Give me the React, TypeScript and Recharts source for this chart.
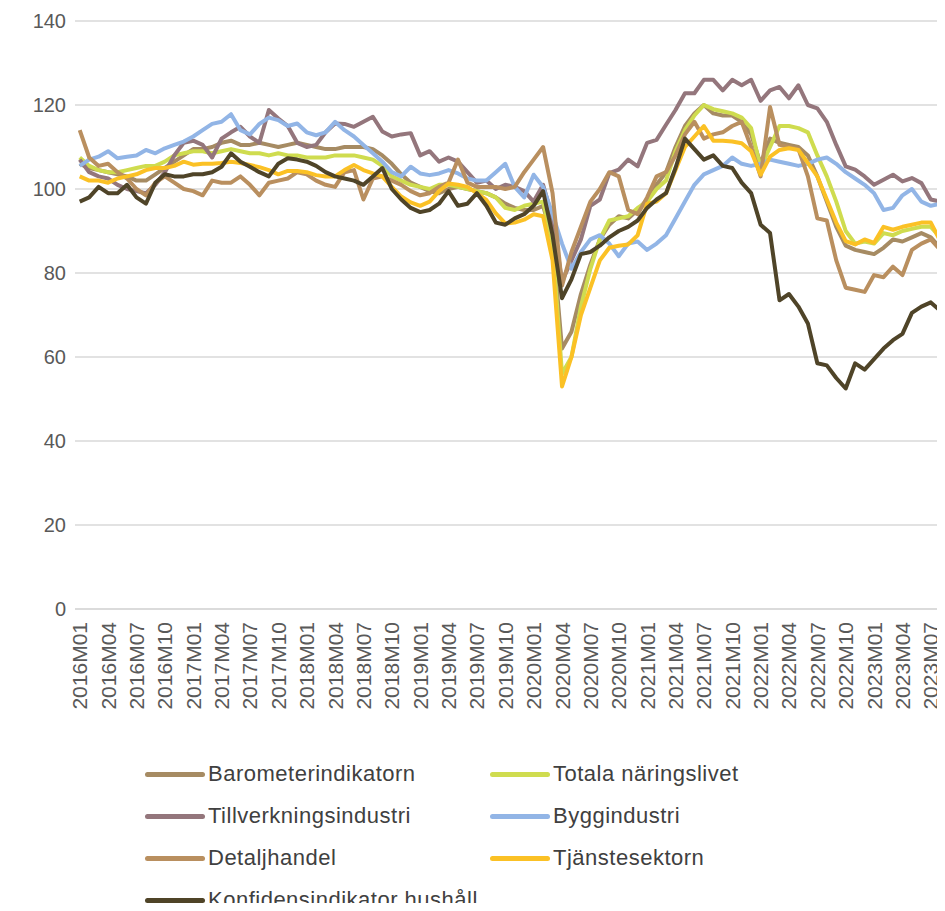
import React from 'react';
import { LineChart, Line, XAxis, YAxis, CartesianGrid, Legend } from 'recharts';

const years = ['2016', '2017', '2018', '2019', '2020', '2021', '2022', '2023'];
const monthCodes = ['M01', 'M02', 'M03', 'M04', 'M05', 'M06', 'M07', 'M08', 'M09', 'M10', 'M11', 'M12'];
const yTicks = [0, 20, 40, 60, 80, 100, 120, 140];

const barometer = [
  106, 105, 104.5, 104, 103.5, 103, 102, 102, 103.5, 105, 106.5, 108,
  109.5, 109.5, 110, 111, 111.5, 110.5, 110.5, 111, 110.5, 110, 110.5, 111,
  110.5, 110, 109.5, 109.5, 110, 110, 110, 109.5, 108, 106, 103.5, 101.5,
  100.5, 99.5, 99, 100, 100.5, 100, 99.5, 99, 98, 96.5, 95.5, 95,
  95, 96, 88, 62, 66, 75, 82, 88, 91.5, 93.5, 93, 95,
  97.5, 101, 104, 110, 115, 118, 120, 118, 117.5, 117.5, 116, 113,
  106, 112, 111, 110.5, 110, 108, 103, 97, 91, 86.5, 85.5, 85,
  84.5, 86, 88, 87.5, 88.5, 89.5, 88.5, 86,
];

const totala = [
  107.5, 105.5, 104.5, 104, 104, 104.5, 105, 105.5, 105.5, 106.5, 108, 108.5,
  109, 109, 108.5, 109, 109.5, 109, 108.5, 108.5, 108, 108.5, 108, 108,
  107.5, 107.5, 107.5, 108, 108, 108, 107.5, 107, 105.5, 103, 102, 101,
  100.5, 100, 101, 101, 100.5, 100, 99.5, 99, 98, 95.5, 95, 96,
  96.5, 97, 87, 56, 60, 72, 81, 88, 92.5, 93, 93.5, 95.5,
  97, 100, 102, 109, 114, 117.5, 120, 119, 118.5, 118, 117, 114.5,
  105, 110, 115, 115, 114.5, 113.5, 108, 103, 97, 90, 87, 87.5,
  87, 89.5, 89, 90, 90.5, 91, 91, 88.5,
];

const tillverkning = [
  107, 104, 103, 102.5, 101, 100, 99.5, 99, 101, 104, 108, 111,
  111.5, 110.5, 107.5, 112, 113.5, 114.8, 112.5, 111, 118.8, 116.8, 115, 111,
  110, 110.5, 113.5, 115.6, 115.5, 114.8, 116, 117.2, 113.7, 112.5, 113, 113.3,
  108, 109, 106.5, 107.5, 106.5, 104, 101.5, 102, 100, 101, 100.5, 99.5,
  97, 101, 93, 78, 83, 88, 96, 97.5, 103.8, 104.6, 107, 105.4,
  111, 111.7, 115.3, 118.8, 122.8, 122.8, 126, 126, 123.5, 126, 124.7, 126,
  121, 123.5, 124.3, 121.6, 124.7, 120, 119.2, 116, 110.5, 105.4, 104.6, 103,
  101, 102.2, 103.4, 101.8, 102.6, 101.4, 97.5, 97,
];

const bygg = [
  105.5, 107, 107.7, 109, 107.3, 107.7, 108, 109.3, 108.5, 109.7, 110.5, 111.3,
  112.5, 114, 115.5, 116, 117.8, 114, 113, 115.5, 117, 116.4, 115, 115.6,
  113.5, 112.8, 113.5, 116, 114, 112.5, 110.5, 108.5, 106.5, 104, 103, 105.3,
  103.7, 103.3, 103.7, 104.5, 103.7, 102.5, 102, 102, 104, 106, 100.5, 98,
  103.4, 100.5, 94, 87, 81, 85, 88, 89, 87, 84, 87, 87.5,
  85.5, 87, 89, 93, 97, 101, 103.5, 104.5, 105.5, 107.5, 106, 105.5,
  106, 107, 106.5, 106, 105.5, 106, 107, 107.5, 106, 104, 102.5, 101,
  99, 95, 95.5, 98.5, 100, 97, 96, 96.5,
];

const detalj = [
  114, 107.5, 105.5, 106, 104, 102.5, 100, 98.5, 101.5, 103, 101.5, 100,
  99.5, 98.5, 102, 101.5, 101.5, 103, 101, 98.5, 101.5, 102, 102.5, 104,
  103.5, 102, 101, 100.5, 104, 104.5, 97.5, 102.5, 103, 102, 101, 99.5,
  98.5, 99, 100.5, 101.5, 107, 101.5, 100.5, 100.5, 100.5, 100, 100.5, 104,
  107, 110, 99, 77, 85, 91, 97, 100, 104, 103, 95, 94,
  98, 103, 104, 108, 113, 116, 112, 113, 113.5, 115, 116, 110,
  103, 119.5, 110.5, 110, 109.5, 103, 93, 92.5, 83, 76.5, 76, 75.5,
  79.5, 79, 81.5, 79.5, 85.5, 87, 88, 85.5,
];

const tjanste = [
  103, 102, 102, 101.5, 102.5, 103, 103.5, 104.5, 105, 105, 105.5, 106.5,
  105.8, 106, 106, 106.2, 106.5, 106.2, 105.7, 105.2, 104.5, 103.5, 104.3, 104.3,
  104, 103.3, 103, 103, 104.5, 105.7, 104.5, 103.7, 103, 100.5, 98.2, 96.8,
  96, 97, 99.5, 101.3, 101, 100.5, 99, 97.4, 94.2, 91.8, 92, 92.7,
  94, 93.5, 83, 53, 60, 70, 76.5, 83, 86, 86.5, 86.8, 89,
  96.5, 97, 99, 104.5, 110, 112.5, 115, 111.5, 111.5, 111.3, 110.9, 109,
  103.4, 107.7, 109.3, 109.7, 109.3, 106.2, 103, 97.5, 92, 87.6, 86.8, 88,
  87.2, 91, 90.3, 91, 91.5, 92, 92, 87.6,
];

const hushall = [
  97, 98, 100.5, 99, 99, 101, 98, 96.5, 101.5, 103.5, 103, 103,
  103.5, 103.5, 104, 105.3, 108.5, 106.5, 105.3, 104, 103, 106, 107.3, 107,
  106.5, 105.5, 104, 103, 102.5, 102, 101, 103, 105, 100, 97.5, 95.5,
  94.5, 95, 96.5, 99.5, 96, 96.5, 99, 96, 92, 91.5, 93, 94,
  96, 99.5, 89, 74, 78.5, 84.5, 85, 86.5, 88.5, 90, 91, 92.5,
  95.5, 97.5, 99, 105, 112, 109.5, 107, 108, 105.5, 105, 101.5, 99,
  91.5, 89.5, 73.5, 75, 72, 68, 58.5, 58, 55, 52.5, 58.5, 57,
  59.5, 62, 64, 65.5, 70.5, 72, 73, 71,
];

const months: string[] = [];
years.forEach((y) => monthCodes.forEach((m) => months.push(y + m)));
const monthLabels = months.slice(0, barometer.length);

const series = [
  { key: 'barometer', name: 'Barometerindikatorn', color: '#A68B63', values: barometer },
  { key: 'totala', name: 'Totala näringslivet', color: '#CFDC4F', values: totala },
  { key: 'tillverkning', name: 'Tillverkningsindustri', color: '#94767C', values: tillverkning },
  { key: 'bygg', name: 'Byggindustri', color: '#92B5E6', values: bygg },
  { key: 'detalj', name: 'Detaljhandel', color: '#B98F5F', values: detalj },
  { key: 'tjanste', name: 'Tjänstesektorn', color: '#FBC125', values: tjanste },
  { key: 'hushall', name: 'Konfidensindikator hushåll', color: '#4F4428', values: hushall },
];

const data = monthLabels.map((m, i) => {
  const row: Record<string, string | number> = { month: m };
  series.forEach((s) => {
    row[s.key] = s.values[i];
  });
  return row;
});

const FONT = '"Liberation Sans", Arial, sans-serif';
const TEXT_COLOR = '#595959';

const XTick = (props: any) => {
  const { x, y, payload } = props;
  return (
    <text
      transform={`translate(${x},${y}) rotate(-90)`}
      textAnchor="end"
      dominantBaseline="central"
      fontFamily={FONT}
      fontSize={21}
      fill={TEXT_COLOR}
    >
      {payload.value}
    </text>
  );
};

const LegendContent = () => (
  <div
    style={{
      display: 'grid',
      gridTemplateColumns: '345px 345px',
      fontFamily: FONT,
      fontSize: 22,
      letterSpacing: 0.5,
      color: '#404040',
    }}
  >
    {series.map((s) => (
      <div key={s.key} style={{ height: 42, display: 'flex', alignItems: 'center' }}>
        <span
          style={{
            display: 'inline-block',
            width: 60,
            height: 5,
            background: s.color,
            borderRadius: 3,
            marginRight: 3,
          }}
        />
        <span>{s.name}</span>
      </div>
    ))}
  </div>
);

export default function App() {
  return (
    <div style={{ width: 937, height: 903, overflow: 'hidden', marginBottom: -8 }}>
      <LineChart
        width={937}
        height={903}
        data={data}
        margin={{ top: 13, right: 0, left: 0, bottom: 0 }}
        style={{ fontFamily: FONT }}
      >
        <CartesianGrid vertical={false} stroke="#D9D9D9" strokeWidth={1.5} />
        <XAxis
          dataKey="month"
          scale="band"
          interval={2}
          tickLine={false}
          tickSize={0}
          tickMargin={13}
          axisLine={{ stroke: '#D9D9D9', strokeWidth: 1.5 }}
          height={302}
          tick={<XTick />}
        />
        <YAxis
          domain={[0, 140]}
          ticks={yTicks}
          width={67}
          tickLine={false}
          axisLine={false}
          tickSize={0}
          tickMargin={9}
          tick={{ fontSize: 20, fill: TEXT_COLOR, fontFamily: FONT }}
        />
        <Legend
          layout="horizontal"
          verticalAlign="middle"
          align="center"
          content={<LegendContent />}
          wrapperStyle={{ top: 745, left: 137, width: 700, height: 168 }}
        />
        {series.map((s) => (
          <Line
            key={s.key}
            type="linear"
            dataKey={s.key}
            name={s.name}
            stroke={s.color}
            strokeWidth={4}
            strokeLinejoin="round"
            dot={false}
            activeDot={false}
            isAnimationActive={false}
          />
        ))}
      </LineChart>
    </div>
  );
}
